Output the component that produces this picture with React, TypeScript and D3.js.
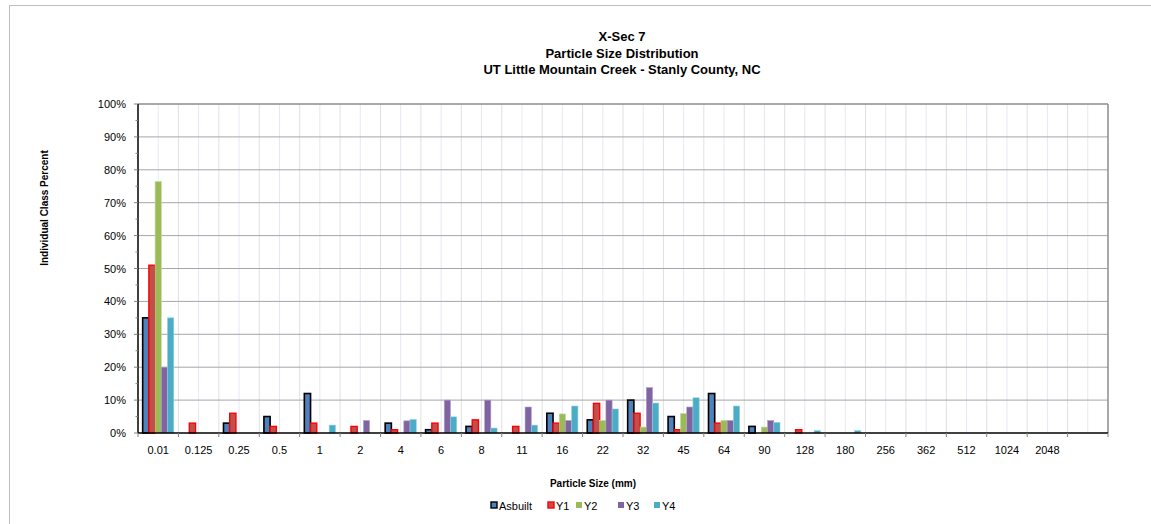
import * as d3 from "d3";
import { FC } from "react";

const CATEGORIES: string[] = [
  "0.01", "0.125", "0.25", "0.5", "1", "2", "4", "6", "8", "11", "16", "22",
  "32", "45", "64", "90", "128", "180", "256", "362", "512", "1024", "2048", "",
];
const SERIES_NAMES: string[] = ["Asbuilt", "Y1", "Y2", "Y3", "Y4"];
const ASBUILT: number[] = [35, 0, 3, 5, 12, 0, 3, 1, 2, 0, 6, 4, 10, 5, 12, 2, 0, 0, 0, 0, 0, 0, 0, 0];
const Y1: number[] = [51, 3, 6, 2, 3, 2, 1, 3, 4, 2, 3, 9, 6, 1, 3, 0, 1, 0, 0, 0, 0, 0, 0, 0];
const Y2: number[] = [76.4, 0, 0, 0, 0, 0, 0, 0, 0, 0, 5.8, 3.8, 1.8, 5.9, 3.8, 1.8, 0, 0, 0, 0, 0, 0, 0, 0];
const Y3: number[] = [20, 0, 0, 0, 0, 3.8, 3.7, 10, 10, 7.9, 3.8, 10, 13.8, 7.9, 3.8, 3.8, 0, 0, 0, 0, 0, 0, 0, 0];
const Y4: number[] = [35, 0, 0, 0, 2.4, 0, 4.1, 4.9, 1.5, 2.4, 8.2, 7.3, 9.1, 10.7, 8.2, 3.2, 0.7, 0.7, 0, 0, 0, 0, 0, 0];
const Y_TICKS: number[] = [0, 10, 20, 30, 40, 50, 60, 70, 80, 90, 100];
const TITLE_LINES: string[] = [
  "X-Sec 7",
  "Particle Size Distribution",
  "UT Little Mountain Creek - Stanly County, NC",
];

const FILLS = ["#4F81BD", "#C0504D", "#9BBB59", "#8064A2", "#4BACC6"];
const STROKES = ["#000000", "#FF0000", "#C4D79B", "#B1A0C7", "#92CDDC"];
const STROKE_W = [1.6, 1.4, 0.6, 0.6, 0.6];
const LEGEND_X = [491, 548, 576, 618, 654];

const W = 1151;
const H = 524;
const M = { left: 138, right: 1108, top: 104, bottom: 433 };
const FONT = "'Liberation Sans', Arial, sans-serif";

const App: FC = () => {
  const series = [ASBUILT, Y1, Y2, Y3, Y4];

  const x = d3
    .scaleBand<string>()
    .domain(CATEGORIES.map((_, i) => String(i)))
    .range([M.left, M.right]);
  const step = x.step();

  // Excel-like gap width of 150%
  const barW = step / 6.5;
  const offset = barW * 0.75;

  const y = d3.scaleLinear().domain([0, 100]).range([M.bottom, M.top]);
  const minorY = d3.range(5, 100, 10);

  return (
    <svg
      width={W}
      height={H}
      style={{ position: "absolute", left: 0, top: 0, background: "#fff" }}
      fontFamily={FONT}
    >
      <rect x={9.5} y={5.5} width={W + 10} height={H + 10} fill="#fff" stroke="#BFBFBF" />

      {TITLE_LINES.map((t, i) => (
        <text key={t} x={622} y={41 + i * 16.5} textAnchor="middle" fontSize={13} fontWeight="bold">
          {t}
        </text>
      ))}

      {/* vertical gridlines */}
      {CATEGORIES.map((_, i) => {
        const x0 = x(String(i)) as number;
        return (
          <g key={"vg" + i}>
            <line x1={x0 + step / 2} x2={x0 + step / 2} y1={M.top} y2={M.bottom} stroke="#E3E9F3" />
            {i > 0 && <line x1={x0} x2={x0} y1={M.top} y2={M.bottom} stroke="#E0E0E0" />}
          </g>
        );
      })}

      {/* horizontal gridlines */}
      {Y_TICKS.filter((t) => t > 0 && t < 100).map((t) => (
        <line key={"hg" + t} x1={M.left} x2={M.right} y1={y(t)} y2={y(t)} stroke="#A6A6A6" />
      ))}
      <line x1={M.left} x2={M.right} y1={M.top} y2={M.top} stroke="#8C8C8C" strokeWidth={1.5} />
      <line x1={M.right} x2={M.right} y1={M.top} y2={M.bottom} stroke="#8C8C8C" strokeWidth={1.5} />

      {/* bars */}
      {series.map((vals, s) =>
        vals.map((v, i) =>
          v > 0 ? (
            <rect
              key={`b${s}-${i}`}
              x={(x(String(i)) as number) + offset + s * barW}
              y={y(v)}
              width={barW}
              height={M.bottom - y(v)}
              fill={FILLS[s]}
              stroke={STROKES[s]}
              strokeWidth={STROKE_W[s]}
            />
          ) : null
        )
      )}

      {/* y axis */}
      <line x1={M.left} x2={M.left} y1={M.top} y2={M.bottom} stroke="#000" strokeWidth={1.5} />
      {Y_TICKS.map((t) => (
        <g key={"yt" + t}>
          <line x1={M.left - 4} x2={M.left} y1={y(t)} y2={y(t)} stroke="#808080" />
          <text x={126} y={y(t) + 4} textAnchor="end" fontSize={11}>
            {t}%
          </text>
        </g>
      ))}
      {minorY.map((t) => (
        <line key={"ym" + t} x1={M.left - 2.5} x2={M.left} y1={y(t)} y2={y(t)} stroke="#808080" />
      ))}

      {/* x axis */}
      <line x1={M.left} x2={M.right} y1={M.bottom} y2={M.bottom} stroke="#000" strokeWidth={1.5} />
      {d3.range(CATEGORIES.length + 1).map((i) => (
        <line
          key={"xt" + i}
          x1={M.left + i * step}
          x2={M.left + i * step}
          y1={M.bottom}
          y2={M.bottom + 4}
          stroke="#808080"
        />
      ))}
      {CATEGORIES.map((c, i) => (
        <text key={"xl" + i} x={(x(String(i)) as number) + step / 2} y={454} textAnchor="middle" fontSize={11}>
          {c}
        </text>
      ))}

      <text x={593} y={487} textAnchor="middle" fontSize={10} fontWeight="bold">
        Particle Size (mm)
      </text>
      <text transform="translate(48,208) rotate(-90)" textAnchor="middle" fontSize={10} fontWeight="bold">
        Individual Class Percent
      </text>

      {/* legend */}
      {SERIES_NAMES.map((name, s) => (
        <g key={name}>
          <rect
            x={LEGEND_X[s]}
            y={502}
            width={6}
            height={6}
            fill={FILLS[s]}
            stroke={s < 2 ? STROKES[s] : "none"}
            strokeWidth={s < 2 ? 1.4 : 0}
          />
          <text x={LEGEND_X[s] + 8} y={509.5} fontSize={11}>
            {name}
          </text>
        </g>
      ))}
    </svg>
  );
};

export default App;
